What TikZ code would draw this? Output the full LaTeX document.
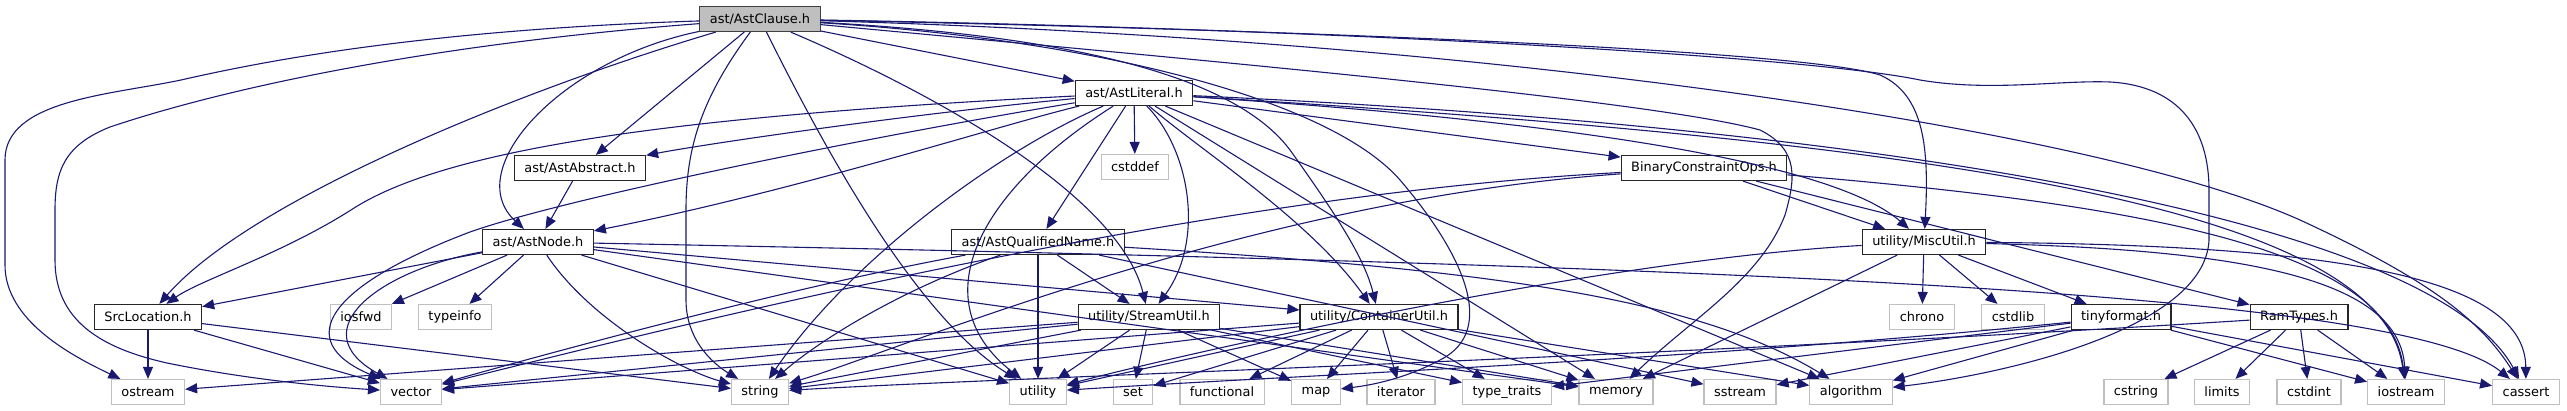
\documentclass[tikz,border=0pt]{standalone}
\usepackage{fontspec}
\usepackage{tikz}
\usetikzlibrary{arrows.meta}
\newfontfamily\dotfont{DejaVu Sans}
\definecolor{edgeblue}{HTML}{191970}
\definecolor{sysgray}{HTML}{BFBFBF}
\tikzset{
  hd/.style={draw=black!85,line width=1.2pt,fill=white,font={\dotfont\fontsize{12.9pt}{15pt}\selectfont},inner xsep=10pt,inner ysep=0pt,minimum height=25pt},
  sys/.style={hd,draw=sysgray},
  rt/.style={hd,fill=sysgray,draw=black!75},
  ar/.style={-{Triangle[length=12pt,width=10pt]},edgeblue,line width=1.1pt}
}
\begin{document}
\begin{tikzpicture}[x=1pt,y=-1pt]
\useasboundingbox (0,0) rectangle (2567,411);
% headers of the project
\node[rt] (clause) at (760,19) {ast/AstClause.h};
\node[hd] (literal) at (1134,93) {ast/AstLiteral.h};
\node[hd] (abstract) at (580,168) {ast/AstAbstract.h};
\node[sys] (cstddef) at (1135,167) {cstddef};
\node[hd] (binops) at (1704,168) {BinaryConstraintOps.h};
\node[hd] (astnode) at (538,242) {ast/AstNode.h};
\node[hd] (qname) at (1038,242) {ast/AstQualifiedName.h};
\node[hd] (miscutil) at (1924,242) {utility/MiscUtil.h};
\node[hd] (srcloc) at (148,317) {SrcLocation.h};
\node[sys] (iosfwd) at (361,317) {iosfwd};
\node[sys] (typeinfo) at (455,317) {typeinfo};
\node[hd] (streamutil) at (1149,317) {utility/StreamUtil.h};
\node[hd] (containerutil) at (1379,317) {utility/ContainerUtil.h};
\node[sys] (chrono) at (1922,317) {chrono};
\node[sys] (cstdlib) at (2013,317) {cstdlib};
\node[hd] (tinyformat) at (2121,317) {tinyformat.h};
\node[hd] (ramtypes) at (2299,317) {RamTypes.h};
% system headers
\node[sys] (ostream) at (148,392) {ostream};
\node[sys] (vector) at (411,392) {vector};
\node[sys] (string) at (760,392) {string};
\node[sys] (utility) at (1038,392) {utility};
\node[sys] (set) at (1133,392) {set};
\node[sys] (functional) at (1222,392) {functional};
\node[sys] (map) at (1316,392) {map};
\node[sys] (iterator) at (1401,392) {iterator};
\node[sys] (typetraits) at (1507,392) {type\_traits};
\node[sys] (memory) at (1616,392) {memory};
\node[sys] (sstream) at (1740,392) {sstream};
\node[sys] (algorithm) at (1851,392) {algorithm};
\node[sys] (cstring) at (2136,392) {cstring};
\node[sys] (limits) at (2222,392) {limits};
\node[sys] (cstdint) at (2309,392) {cstdint};
\node[sys] (iostream) at (2406,392) {iostream};
\node[sys] (cassert) at (2526,392) {cassert};
% includes of ast/AstClause.h
\draw[ar] (clause) .. controls (420,30) and (260,62) .. (181,80) .. controls (110,95) and (5,100) .. (5,160) -- (5,265) .. controls (5,320) and (70,355) .. (ostream);
\draw[ar] (clause) .. controls (420,45) and (220,90) .. (110,127) .. controls (65,145) and (55,170) .. (55,210) -- (55,260) .. controls (55,320) and (100,348) .. (167,363) .. controls (250,380) and (330,387) .. (vector);
\draw[ar] (clause) .. controls (520,90) and (250,200) .. (srcloc);
\draw[ar] (clause) .. controls (560,60) and (460,170) .. (astnode);
\draw[ar] (clause) .. controls (700,100) and (686,150) .. (686,210) -- (686,300) .. controls (686,345) and (720,368) .. (string);
\draw[ar] (clause) .. controls (830,160) and (920,320) .. (utility);
\draw[ar] (clause) .. controls (950,100) and (1120,200) .. (streamutil);
\draw[ar] (clause) .. controls (1050,35) and (1230,70) .. (1290,150) .. controls (1340,220) and (1365,260) .. (containerutil);
\draw[ar] (clause) .. controls (1100,40) and (1330,100) .. (1400,180) .. controls (1460,250) and (1500,330) .. (1440,360) .. controls (1410,376) and (1380,384) .. (map);
\draw[ar] (clause) .. controls (1300,30) and (1800,50) .. (1880,75) .. controls (1925,95) and (1929,150) .. (miscutil);
\draw[ar] (clause) .. controls (1300,28) and (1800,55) .. (1920,80) .. controls (1990,92) and (2060,80) .. (2110,82) .. controls (2180,86) and (2209,130) .. (2209,190) -- (2209,240) .. controls (2205,330) and (2000,375) .. (algorithm);
\draw[ar] (clause) .. controls (1200,60) and (1650,100) .. (1760,130) .. controls (1800,150) and (1795,180) .. (1785,215) .. controls (1760,280) and (1690,320) .. (memory);
\draw[ar] (clause) .. controls (1500,40) and (2100,130) .. (2300,220) .. controls (2430,280) and (2480,320) .. (cassert);
% includes of ast/AstLiteral.h
\draw[ar] (literal) .. controls (900,115) and (700,145) .. (abstract);
\draw[ar] (literal) .. controls (1000,125) and (800,190) .. (astnode);
\draw[ar] (literal) .. controls (700,115) and (450,145) .. (351,210) .. controls (280,255) and (200,280) .. (srcloc);
\draw[ar] (literal) .. controls (850,140) and (560,200) .. (470,232) .. controls (330,285) and (290,340) .. (vector);
\draw[ar] (literal) .. controls (1000,150) and (850,260) .. (string);
\draw[ar] (literal) .. controls (980,190) and (920,300) .. (utility);
\draw[ar] (literal) .. controls (1190,150) and (1205,240) .. (streamutil);
\draw[ar] (literal) .. controls (1200,150) and (1310,220) .. (containerutil);
\draw[ar] (literal) .. controls (1550,120) and (1830,160) .. (miscutil);
\draw[ar] (literal) .. controls (1900,140) and (2380,200) .. (iostream);
\draw[ar] (literal) .. controls (1950,130) and (2440,230) .. (cassert);
% the other curved edges
\draw[ar] (astnode) .. controls (380,270) and (300,330) .. (vector);
\draw[ar] (astnode) .. controls (590,320) and (680,370) .. (string);
\draw[ar] (astnode) .. controls (1700,265) and (2400,290) .. (cassert);
\draw[ar] (qname) .. controls (800,285) and (560,350) .. (vector);
\draw[ar] (qname) .. controls (900,290) and (820,340) .. (string);
\draw[ar] (qname) .. controls (1500,270) and (1700,300) .. (algorithm);
\draw[ar] (binops) .. controls (1200,195) and (700,320) .. (vector);
\draw[ar] (binops) .. controls (1250,200) and (900,350) .. (string);
\draw[ar] (binops) .. controls (2150,205) and (2390,250) .. (iostream);
\draw[ar] (miscutil) .. controls (1600,260) and (1200,350) .. (utility);
\draw[ar] (miscutil) .. controls (2250,250) and (2400,280) .. (iostream);
\draw[ar] (miscutil) .. controls (2350,245) and (2525,280) .. (cassert);
\draw[ar] (ramtypes) .. controls (1700,355) and (1000,378) .. (string);
\draw[ar] (tinyformat) .. controls (1700,360) and (1300,375) .. (utility);
% straight edges
\foreach \a/\b in {clause/literal,clause/abstract,literal/cstddef,literal/qname,literal/binops,literal/memory,literal/algorithm,abstract/astnode,astnode/srcloc,astnode/iosfwd,astnode/typeinfo,astnode/utility,astnode/containerutil,astnode/memory,qname/streamutil,qname/utility,qname/sstream,binops/miscutil,binops/ramtypes,miscutil/chrono,miscutil/cstdlib,miscutil/tinyformat,miscutil/memory,srcloc/ostream,srcloc/vector,srcloc/string}
  \draw[ar] (\a) -- (\b);
\foreach \b in {ostream,vector,string,utility,set,map,typetraits,memory}
  \draw[ar] (streamutil) -- (\b);
\foreach \b in {vector,string,utility,set,functional,map,iterator,typetraits,memory,algorithm}
  \draw[ar] (containerutil) -- (\b);
\foreach \b in {sstream,algorithm,typetraits,iostream,cassert}
  \draw[ar] (tinyformat) -- (\b);
\foreach \b in {cstring,limits,cstdint,iostream}
  \draw[ar] (ramtypes) -- (\b);
\end{tikzpicture}
\end{document}
